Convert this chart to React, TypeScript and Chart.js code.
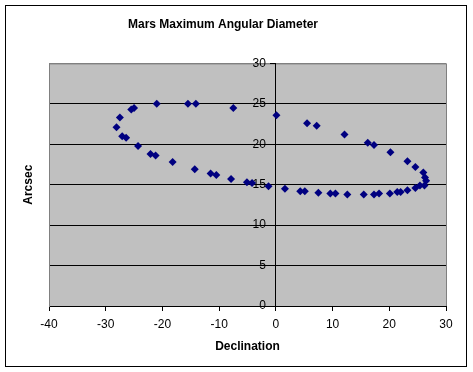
import React, { useEffect, useRef } from "react";
import { Chart, registerables } from "chart.js";

Chart.register(...registerables);

const declination: number[] = [
  -7.5, -14.1, -15.5, -21.0, -25.0, -25.5, -27.5, -28.1, -27.1, -26.4,
  -24.3, -22.1, -21.2, -18.2, -14.3, -11.5, -10.5, -7.9, -5.1, -4.2,
  -1.3, 1.6, 4.3, 5.1, 7.5, 9.6, 10.5, 12.6, 15.5, 17.3,
  18.2, 20.1, 21.4, 22.0, 23.2, 24.6, 25.4, 26.2, 26.5, 26.3,
  26.0, 24.6, 23.2, 20.2, 17.3, 16.2, 12.1, 7.2, 5.5, 0.1,
];
const arcsec: number[] = [
  24.5, 25.0, 25.0, 25.0, 24.5, 24.3, 23.3, 22.1, 21.0, 20.8,
  19.8, 18.8, 18.6, 17.8, 16.9, 16.4, 16.2, 15.7, 15.3, 15.2,
  14.8, 14.5, 14.2, 14.2, 14.0, 13.9, 13.9, 13.8, 13.8, 13.8,
  13.9, 13.9, 14.1, 14.1, 14.3, 14.6, 14.9, 14.9, 15.5, 15.9,
  16.5, 17.2, 17.9, 19.0, 19.9, 20.2, 21.2, 22.3, 22.6, 23.6,
];
const xTicks = { min: -40, max: 30, step: 10 };
const yTicks = { min: 0, max: 30, step: 5 };

const FONT = "'Liberation Sans', Arial, sans-serif";

const framePlugin = {
  id: "frame",
  beforeDraw(chart: any) {
    const { ctx, chartArea } = chart;
    ctx.save();
    ctx.fillStyle = "#ffffff";
    ctx.fillRect(0, 0, chart.width, chart.height);
    ctx.strokeStyle = "#000000";
    ctx.lineWidth = 1;
    ctx.strokeRect(5.5, 5.5, 461, 361);
    ctx.fillStyle = "#c0c0c0";
    ctx.fillRect(chartArea.left, chartArea.top, chartArea.right - chartArea.left, chartArea.bottom - chartArea.top);
    ctx.strokeStyle = "#808080";
    ctx.strokeRect(chartArea.left + 0.5, chartArea.top + 0.5, chartArea.right - chartArea.left, chartArea.bottom - chartArea.top);
    ctx.restore();
  },
};

export default function App() {
  const ref = useRef<HTMLCanvasElement>(null);
  useEffect(() => {
    if (!ref.current) return;
    const points = declination.map((x, i) => ({ x, y: arcsec[i] }));
    const chart = new Chart(ref.current, {
      type: "scatter",
      data: {
        datasets: [
          {
            data: points,
            backgroundColor: "#000080",
            borderColor: "#000080",
            borderWidth: 0,
            pointStyle: "rectRot",
            pointRadius: 4,
            pointHoverRadius: 4,
          },
        ],
      },
      options: {
        animation: false,
        responsive: false,
        maintainAspectRatio: false,
        layout: { padding: { left: 0, right: 27, top: 0, bottom: 0 } },
        plugins: {
          legend: { display: false },
          tooltip: { enabled: false },
          title: {
            display: true,
            text: "Mars Maximum Angular Diameter",
            color: "#000000",
            font: { family: FONT, size: 12, weight: "bold" },
            padding: { top: 17, bottom: 32 },
          },
        },
        scales: {
          x: {
            type: "linear",
            position: "bottom",
            min: xTicks.min,
            max: xTicks.max,
            afterFit: (s: any) => { s.height = 66; },
            ticks: { stepSize: xTicks.step, color: "#000000", font: { family: FONT, size: 12 }, padding: 6 },
            grid: { drawOnChartArea: false, color: "#000000", tickLength: 5 },
            border: { color: "#000000" },
            title: {
              display: true,
              text: "Declination",
              color: "#000000",
              font: { family: FONT, size: 12, weight: "bold" },
              padding: { top: 0, bottom: 18 },
            },
          },
          y: {
            type: "linear",
            position: "left",
            min: yTicks.min,
            max: yTicks.max,
            afterFit: (s: any) => { s.width = 49; },
            ticks: { stepSize: yTicks.step, display: false },
            grid: {
              drawTicks: false,
              color: (c: any) => (c.tick && c.tick.value === yTicks.max ? "#808080" : "#000000"),
            },
            border: { color: "#808080" },
            title: {
              display: true,
              text: "Arcsec",
              color: "#000000",
              font: { family: FONT, size: 12, weight: "bold" },
              padding: { top: 21, bottom: 0 },
            },
          },
          y2: {
            type: "linear",
            axis: "y",
            position: { x: 0 },
            min: yTicks.min,
            max: yTicks.max,
            ticks: {
              stepSize: yTicks.step,
              color: "#000000",
              font: { family: FONT, size: 12 },
              padding: 5,
              callback: (v: any) => String(v) + "\u00a0\u00a0\u00a0",
            },
            grid: { drawOnChartArea: false, color: "#000000", tickLength: 5 },
            border: { color: "#000000" },
          },
        },
      },
      plugins: [framePlugin],
    });
    return () => chart.destroy();
  }, []);
  return (
    <div style={{ position: "fixed", left: 0, top: 0, width: 473, height: 372 }}>
      <canvas ref={ref} width={473} height={372} style={{ width: 473, height: 372, display: "block" }} />
    </div>
  );
}
